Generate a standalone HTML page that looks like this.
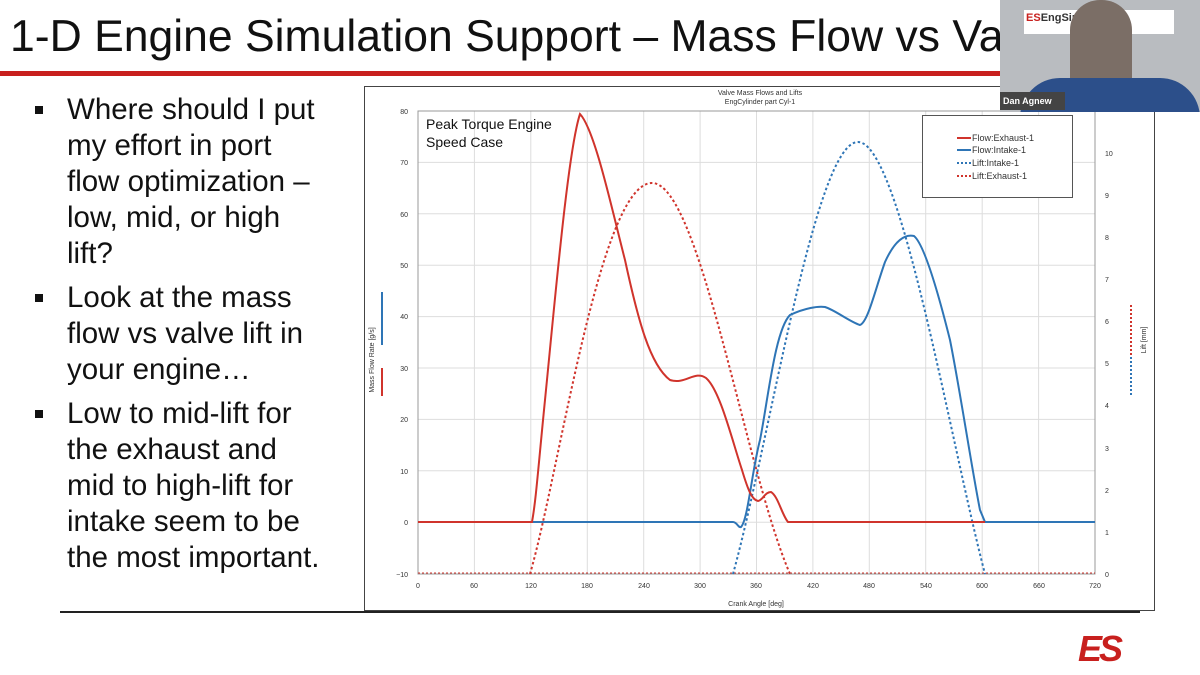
<!DOCTYPE html>
<html><head><meta charset="utf-8"><style>
body{margin:0;width:1200px;height:675px;background:#fff;overflow:hidden;position:relative;font-family:"Liberation Sans",sans-serif}
.t{position:absolute;left:10px;top:12px;font-size:44.5px;color:#111;white-space:nowrap}
.bul{position:absolute;left:35px;top:92px;width:320px;font-size:29.5px;line-height:36px;color:#111;white-space:nowrap}
.bul div{position:relative;padding-left:32px;margin-bottom:8px}
.bul div:before{content:"";position:absolute;left:0;top:14px;width:8px;height:8px;background:#111}
</style></head><body>
<div class="t">1-D Engine Simulation Support – Mass Flow vs Va</div>
<div style="position:absolute;left:0;top:71px;width:1000px;height:5px;background:#c8201e"></div>
<div class="bul">
<div>Where should I put<br>my effort in port<br>flow optimization –<br>low, mid, or high<br>lift?</div>
<div>Look at the mass<br>flow vs valve lift in<br>your engine…</div>
<div>Low to mid-lift for<br>the exhaust and<br>mid to high-lift for<br>intake seem to be<br>the most important.</div>
</div>
<svg width="1200" height="675" style="position:absolute;left:0;top:0" font-family="Liberation Sans, sans-serif">
<rect x="364.5" y="86.5" width="790" height="524" fill="#fff" stroke="#444"/>
<line x1="60" y1="612" x2="1140" y2="612" stroke="#222" stroke-width="2"/>
<text x="760" y="95" font-size="7" text-anchor="middle" fill="#333">Valve Mass Flows and Lifts</text>
<text x="760" y="104" font-size="7" text-anchor="middle" fill="#333">EngCylinder part Cyl-1</text>
<g stroke="#ddd" stroke-width="1">
<line x1="474.4" y1="111" x2="474.4" y2="574"/><line x1="530.8" y1="111" x2="530.8" y2="574"/><line x1="587.3" y1="111" x2="587.3" y2="574"/><line x1="643.7" y1="111" x2="643.7" y2="574"/><line x1="700.1" y1="111" x2="700.1" y2="574"/><line x1="756.5" y1="111" x2="756.5" y2="574"/><line x1="812.9" y1="111" x2="812.9" y2="574"/><line x1="869.3" y1="111" x2="869.3" y2="574"/><line x1="925.7" y1="111" x2="925.7" y2="574"/><line x1="982.2" y1="111" x2="982.2" y2="574"/><line x1="1038.6" y1="111" x2="1038.6" y2="574"/>
<line x1="418" y1="162.4" x2="1095" y2="162.4"/><line x1="418" y1="213.8" x2="1095" y2="213.8"/><line x1="418" y1="265.2" x2="1095" y2="265.2"/><line x1="418" y1="316.6" x2="1095" y2="316.6"/><line x1="418" y1="368" x2="1095" y2="368"/><line x1="418" y1="419.4" x2="1095" y2="419.4"/><line x1="418" y1="470.8" x2="1095" y2="470.8"/><line x1="418" y1="522.2" x2="1095" y2="522.2"/>
</g>
<rect x="418" y="111" width="677" height="463" fill="none" stroke="#999"/>
<g font-size="7" fill="#333" text-anchor="end">
<text x="408" y="114">80</text><text x="408" y="165">70</text><text x="408" y="217">60</text><text x="408" y="268">50</text><text x="408" y="319">40</text><text x="408" y="371">30</text><text x="408" y="422">20</text><text x="408" y="474">10</text><text x="408" y="525">0</text><text x="408" y="577">−10</text>
</g>
<g font-size="7" fill="#333">
<text x="1105" y="577">0</text><text x="1105" y="535">1</text><text x="1105" y="493">2</text><text x="1105" y="451">3</text><text x="1105" y="408">4</text><text x="1105" y="366">5</text><text x="1105" y="324">6</text><text x="1105" y="282">7</text><text x="1105" y="240">8</text><text x="1105" y="198">9</text><text x="1105" y="156">10</text>
</g>
<g font-size="7" fill="#333" text-anchor="middle">
<text x="418" y="588">0</text><text x="474" y="588">60</text><text x="531" y="588">120</text><text x="587" y="588">180</text><text x="644" y="588">240</text><text x="700" y="588">300</text><text x="756" y="588">360</text><text x="813" y="588">420</text><text x="869" y="588">480</text><text x="926" y="588">540</text><text x="982" y="588">600</text><text x="1039" y="588">660</text><text x="1095" y="588">720</text>
<text x="756" y="606">Crank Angle [deg]</text>
</g>
<text transform="translate(374,360) rotate(-90)" font-size="7" fill="#333" text-anchor="middle">Mass Flow Rate [g/s]</text>
<text transform="translate(1146,340) rotate(-90)" font-size="7" fill="#333" text-anchor="middle">Lift [mm]</text>
<line x1="382" y1="292" x2="382" y2="345" stroke="#2e75b6" stroke-width="2"/>
<line x1="382" y1="368" x2="382" y2="396" stroke="#d0342c" stroke-width="2"/>
<line x1="1131" y1="305" x2="1131" y2="355" stroke="#d0342c" stroke-width="2" stroke-dasharray="2 2"/>
<line x1="1131" y1="357" x2="1131" y2="397" stroke="#2e75b6" stroke-width="2" stroke-dasharray="2 2"/>
<text x="426" y="129" font-size="14" fill="#111">Peak Torque Engine</text>
<text x="426" y="147" font-size="14" fill="#111">Speed Case</text>
<rect x="922.5" y="115.5" width="150" height="82" fill="#fff" stroke="#555"/>
<g font-size="9" fill="#333">
<line x1="957" y1="138" x2="971" y2="138" stroke="#d0342c" stroke-width="2"/><text x="972" y="141">Flow:Exhaust-1</text>
<line x1="957" y1="150" x2="971" y2="150" stroke="#2e75b6" stroke-width="2"/><text x="972" y="153">Flow:Intake-1</text>
<line x1="957" y1="163" x2="971" y2="163" stroke="#2e75b6" stroke-width="2" stroke-dasharray="2 2"/><text x="972" y="166">Lift:Intake-1</text>
<line x1="957" y1="176" x2="971" y2="176" stroke="#d0342c" stroke-width="2" stroke-dasharray="2 2"/><text x="972" y="179">Lift:Exhaust-1</text>
</g>
<line x1="418" y1="573" x2="1095" y2="573" stroke="#d0342c" stroke-width="1" stroke-dasharray="2 2"/>
<path d="M530,574 C560,470 600,183 652,183 C700,183 745,470 790,574" fill="none" stroke="#d0342c" stroke-width="2" stroke-dasharray="2.5 2.5"/>
<path d="M733,574 C770,440 815,142 858,142 C900,142 950,440 985,574" fill="none" stroke="#2e75b6" stroke-width="2" stroke-dasharray="2.5 2.5"/>
<path d="M418,522 L733,522 C737,522 738,528 741,527 C748,520 752,470 760,440 C768,400 775,330 790,315 C805,308 818,306 825,307 C835,310 850,322 860,325 C868,322 875,290 885,262 C895,240 905,234 914,236 C925,245 940,300 950,340 C960,390 972,470 980,510 L985,522 L1095,522" fill="none" stroke="#2e75b6" stroke-width="2"/>
<path d="M418,522 L532,522 C536,500 538,470 545,400 C555,300 568,150 580,114 C595,130 612,210 625,260 C638,320 650,365 670,380 C685,385 695,370 706,378 C720,390 732,440 742,470 C748,490 752,500 758,501 C763,500 765,492 771,492 C778,496 782,515 788,522 L985,522" fill="none" stroke="#d0342c" stroke-width="2"/>
</svg>
<div style="position:absolute;left:1000px;top:0;width:200px;height:112px;background:#b9bcc0;overflow:hidden">
<div style="position:absolute;left:24px;top:10px;width:150px;height:24px;background:#fff"></div>
<div style="position:absolute;left:26px;top:12px;font:bold 11px 'Liberation Sans';color:#c8201e">ES<span style="color:#333">EngSim</span></div>
<div style="position:absolute;left:70px;top:0;width:62px;height:112px;background:#7b6e66;border-radius:30px 30px 0 0"></div>
<div style="position:absolute;left:20px;top:78px;width:180px;height:40px;background:#2c4f8a;border-radius:40px 40px 0 0"></div>
<div style="position:absolute;left:0;top:92px;width:62px;height:18px;background:#444;color:#fff;font:bold 9px 'Liberation Sans';line-height:18px;padding-left:3px">Dan Agnew</div>
</div>
<div style="position:absolute;left:1078px;top:628px;font:italic bold 36px 'Liberation Sans';color:#c8201e;letter-spacing:-3px">ES</div>
</body></html>
